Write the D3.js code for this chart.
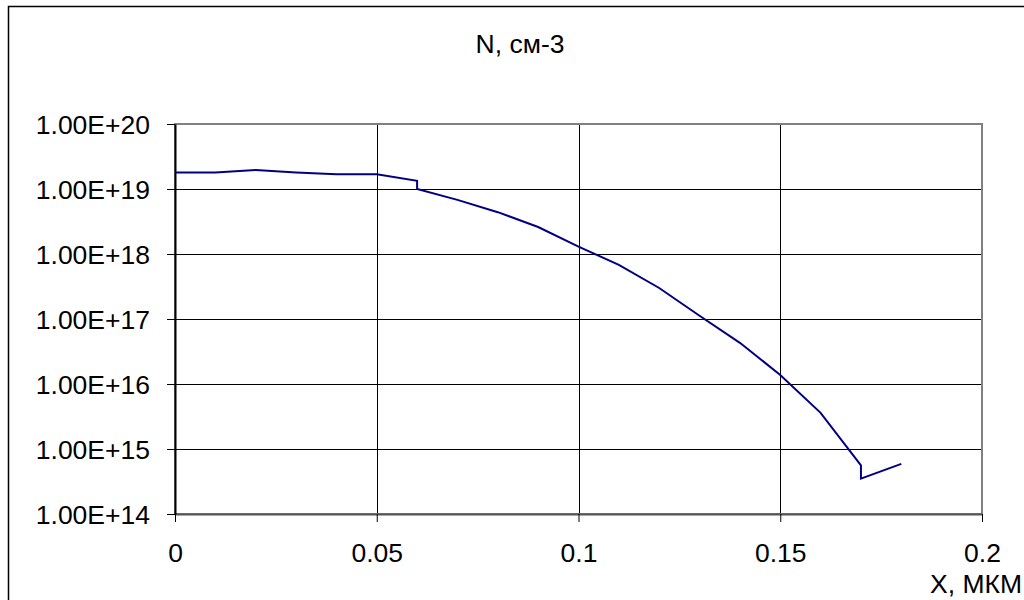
<!DOCTYPE html>
<html>
<head>
<meta charset="utf-8">
<script src="https://cdn.jsdelivr.net/npm/d3@7"></script>
<style>
	body { margin:0; background:#fff; }
	text { font-family: "Liberation Sans", Arial, sans-serif; }
</style>
</head>
<body>
<script>
// data
var xValues = [0, 0.01, 0.02, 0.03, 0.04, 0.05, 0.06, 0.06, 0.07, 0.08, 0.09, 0.10,
	0.11, 0.12, 0.13, 0.14, 0.15, 0.16, 0.17, 0.17, 0.18];
var nValues = [1.8e19, 1.8e19, 1.96e19, 1.8e19, 1.68e19, 1.68e19, 1.34e19, 1.0e19, 6.8e18, 4.4e18, 2.6e18, 1.3e18,
	6.8e17, 3.0e17, 1.12e17, 4.3e16, 1.38e16, 3.6e15, 5.6e14, 3.5e14, 5.9e14];
var xTicks = [0, 0.05, 0.1, 0.15, 0.2];
var xTickLabels = ["0", "0.05", "0.1", "0.15", "0.2"];
var yTicks = [1e14, 1e15, 1e16, 1e17, 1e18, 1e19, 1e20];
var yTickLabels = ["1.00E+14", "1.00E+15", "1.00E+16", "1.00E+17", "1.00E+18", "1.00E+19", "1.00E+20"];

function drawChart(){
	var pLeft = 175, pRight = 982, pTop = 124, pBottom = 514;
	var fontSize = 26.5;

	var svg = d3.select("body")
				.append("svg")
				.attr("width", 1024)
				.attr("height", 600);

	// outer chart frame (runs off the picture right and bottom)
	svg.append("rect")
		.attr("x", 8.5).attr("y", 6.5)
		.attr("width", 1100).attr("height", 700)
		.attr("fill", "none")
		.attr("stroke", "#000")
		.attr("stroke-width", 1.5);

	var x = d3.scaleLinear().domain([0, 0.2]).range([pLeft, pRight]);
	var y = d3.scaleLog().domain([1e14, 1e20]).range([pBottom, pTop]);

	// grid
	svg.append("g").selectAll("line")
		.data(yTicks.slice(1, -1))
		.enter()
		.append("line")
		.attr("x1", pLeft).attr("x2", pRight)
		.attr("y1", function(d){ return Math.round(y(d)) + 0.5; })
		.attr("y2", function(d){ return Math.round(y(d)) + 0.5; })
		.attr("stroke", "#000");

	svg.append("g").selectAll("line")
		.data(xTicks.slice(1, -1))
		.enter()
		.append("line")
		.attr("y1", pTop).attr("y2", pBottom)
		.attr("x1", function(d){ return Math.round(x(d)) + 0.5; })
		.attr("x2", function(d){ return Math.round(x(d)) + 0.5; })
		.attr("stroke", "#000");

	// plot area border
	svg.append("rect")
		.attr("x", pLeft).attr("y", pTop)
		.attr("width", pRight - pLeft).attr("height", pBottom - pTop)
		.attr("fill", "none")
		.attr("stroke", "#808080")
		.attr("stroke-width", 2);

	// axes
	var xAxis = d3.axisBottom(x)
		.tickValues(xTicks)
		.tickSize(8)
		.tickSizeOuter(0)
		.tickFormat(function(d, i){ return xTickLabels[i]; });
	var yAxis = d3.axisLeft(y)
		.tickValues(yTicks)
		.tickSize(8)
		.tickSizeOuter(0)
		.tickFormat(function(d, i){ return yTickLabels[i]; });

	var gx = svg.append("g")
		.attr("transform", "translate(0," + pBottom + ")")
		.call(xAxis);
	gx.select(".domain").attr("stroke", "#555").attr("stroke-width", 2);
	gx.selectAll(".tick line").attr("stroke", "#000");
	gx.selectAll(".tick text")
		.attr("font-family", "Liberation Sans, Arial, sans-serif")
		.attr("font-size", fontSize)
		.attr("fill", "#000")
		.attr("dy", 0)
		.attr("y", 48);

	var gy = svg.append("g")
		.attr("transform", "translate(" + pLeft + ",0)")
		.call(yAxis);
	gy.select(".domain").attr("stroke", "#000").attr("stroke-width", 2);
	gy.selectAll(".tick line").attr("stroke", "#000");
	gy.selectAll(".tick text")
		.attr("font-family", "Liberation Sans, Arial, sans-serif")
		.attr("font-size", fontSize)
		.attr("fill", "#000")
		.attr("x", -25)
		.attr("dy", "0.36em");

	// the curve
	var line = d3.line()
		.x(function(d, i){ return x(xValues[i]); })
		.y(function(d){ return y(d); });

	svg.append("path")
		.datum(nValues)
		.attr("d", line)
		.attr("fill", "none")
		.attr("stroke", "#000080")
		.attr("stroke-width", 2);

	// titles
	svg.append("text")
		.attr("x", 520).attr("y", 53)
		.attr("text-anchor", "middle")
		.attr("font-size", fontSize)
		.text("N, см-3");

	svg.append("text")
		.attr("x", 930).attr("y", 593)
		.attr("font-size", fontSize)
		.text("X, МКМ");
}

drawChart();
</script>
</body>
</html>
